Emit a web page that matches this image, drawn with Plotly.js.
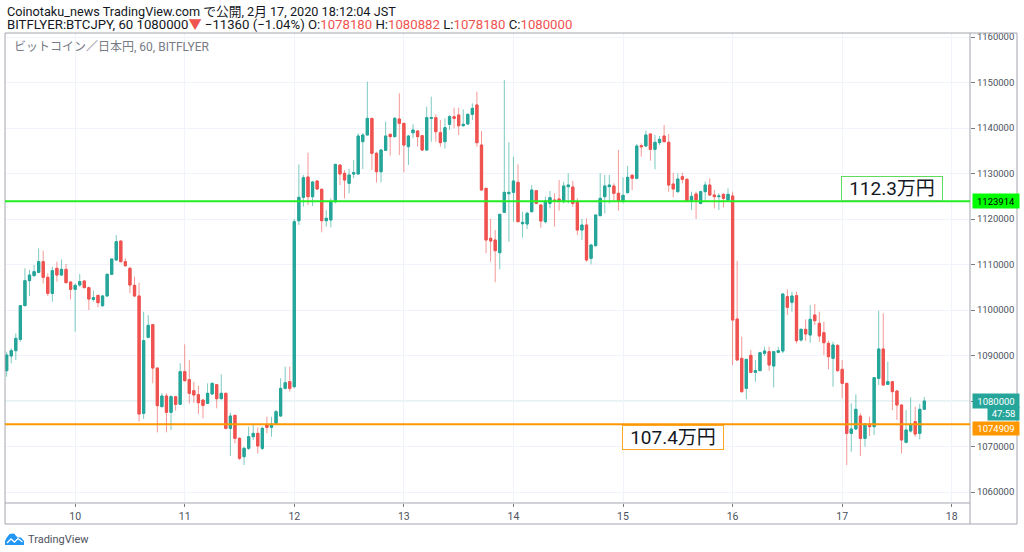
<!DOCTYPE html>
<html><head><meta charset="utf-8">
<script src="https://cdn.plot.ly/plotly-3.0.1.min.js"></script>
<style>html,body{margin:0;padding:0;background:#fff;}#chart{width:1024px;height:552px;}</style>
</head><body><div id="chart"></div>
<script>
// hourly candles, BITFLYER BTC/JPY, first candle 2020-02-09 09:00 JST
const startTime = [2020, 1, 9, 9];
const open = [
1086670,1089890,1091060,1093550,1100950,1106450,1107550,1108280,1110620,1107180,
1103660,1109160,1107690,1108940,1106150,1104540,1105490,1106370,1104910,1102340,
1103220,1100950,1103080,1107840,1110990,1115160,1110620,1109160,1105420,1103080,
1077290,1093990,1096780,1087250,1078750,1081100,1077510,1080950,1079270,1086450,
1084690,1082270,1081390,1080220,1079490,1081540,1083590,1080510,1081690,1073990,
1076850,1071800,1067770,1069600,1072160,1072890,1069600,1074730,1074210,1075090,
1076700,1082780,1084250,1083150,1119630,1124760,1129230,1124910,1128350,1126520,
1119630,1119780,1123810,1131870,1130040,1127840,1129890,1129890,1137000,1138460,
1142120,1134430,1130400,1135090,1138610,1138100,1141980,1141030,1135900,1138970,
1139340,1138320,1135160,1142120,1142270,1138970,1137000,1140810,1142490,1142860,
1140510,1140880,1143000,1145060,1136260,1126740,1115750,1115380,1112600,1121470,
1125570,1125860,1128060,1118970,1118900,1121610,1126230,1123080,1119410,1123440,
1124180,1124400,1123810,1127110,1127030,1123810,1117580,1118680,1111360,1114140,
1120730,1124910,1127110,1127250,1125640,1124030,1125790,1129600,1128940,1136120,
1136040,1138680,1135310,1136780,1138240,1136850,1127690,1126010,1129300,1128720,
1124030,1125490,1123440,1126010,1127470,1125270,1124910,1125420,1124180,1125060,
1098020,1089380,1082780,1090040,1086300,1086670,1090480,1090840,1087690,1090700,
1090990,1102930,1101690,1103150,1093410,1095750,1094510,1098900,1097070,1095020,
1092670,1089380,1092230,1086960,1083880,1072890,1073850,1076700,1071790,1074950,
1074360,1084980,1091430,1083660,1084250,1082200,1079120,1070920,1073410,1075460,
1072890,1078180];
const high = [
1090840,1091580,1094870,1101100,1109160,1108790,1109890,1113550,1113040,1108060,
1109520,1110620,1111140,1110110,1106230,1105860,1107910,1106590,1105130,1104250,
1103300,1103300,1108060,1111300,1116480,1115240,1111360,1109520,1107330,1106010,
1099630,1098900,1096850,1087300,1081690,1081690,1081320,1081100,1088280,1092450,
1089010,1084250,1083370,1080370,1083880,1084100,1083660,1085860,1081830,1077440,
1076920,1072010,1069960,1074360,1074730,1074210,1074360,1076560,1076560,1078020,
1084980,1087550,1087550,1120000,1132010,1129670,1134580,1128350,1128500,1126740,
1121980,1124540,1132100,1132010,1130770,1130990,1132970,1138830,1138830,1150180,
1142200,1134800,1135380,1141390,1138830,1142490,1147620,1141100,1138460,1140810,
1139560,1138460,1144690,1146890,1143000,1141760,1142120,1142860,1144470,1144470,
1144100,1143220,1145420,1147990,1139340,1126800,1120000,1117580,1121100,1150550,
1136850,1133700,1132010,1121610,1121610,1127470,1126370,1123220,1124910,1126150,
1125640,1128570,1128200,1130040,1128350,1124540,1120000,1120150,1114430,1121030,
1130040,1129670,1129670,1127840,1135170,1129160,1131650,1129890,1136480,1136630,
1139410,1138830,1138460,1138240,1140660,1138680,1130180,1130040,1130180,1128940,
1126010,1126010,1126230,1128210,1128940,1126370,1125640,1125640,1126740,1126010,
1110770,1094140,1089230,1091210,1089010,1090840,1091940,1091940,1090990,1091940,
1103660,1104540,1104030,1104030,1095970,1097950,1101100,1101320,1099630,1097440,
1093260,1093040,1092450,1089010,1083900,1079490,1081470,1077290,1075090,1076560,
1085200,1099850,1099270,1088640,1084300,1082420,1079200,1078020,1080810,1078750,
1079340,1080882];
const low = [
1085350,1088280,1089010,1093040,1100900,1103080,1107330,1108060,1105860,1103080,
1101830,1106230,1107470,1105860,1102340,1095240,1105130,1104760,1100000,1101830,
1100590,1100730,1103000,1107690,1110900,1110500,1109520,1103660,1102930,1075460,
1076040,1093770,1083880,1073110,1078700,1073110,1073630,1077880,1079200,1084250,
1079490,1079630,1077140,1076190,1079340,1081320,1078390,1080370,1073770,1067910,
1070700,1067030,1065930,1069230,1071430,1068500,1069230,1072890,1072160,1074950,
1076560,1082560,1082050,1082780,1118680,1122710,1123080,1122860,1126370,1117070,
1118320,1118170,1123440,1127470,1124540,1125640,1128940,1129800,1130990,1138400,
1130770,1127990,1128060,1134950,1133920,1137950,1134070,1130260,1131870,1137730,
1135900,1134950,1134950,1137000,1137000,1135900,1135530,1139560,1139930,1138460,
1140290,1140660,1141760,1135900,1126300,1112450,1110620,1106080,1108940,1121400,
1115020,1119410,1119350,1115900,1117800,1121470,1123220,1118090,1119050,1122340,
1118320,1121830,1123440,1123440,1122710,1116480,1115380,1110620,1110040,1113920,
1120700,1121250,1123440,1124030,1121830,1123440,1125640,1126370,1128720,1133700,
1135900,1132820,1130920,1136260,1136780,1126010,1124760,1125790,1127840,1123810,
1121980,1120000,1123220,1123810,1125130,1122340,1121980,1122560,1124030,1087910,
1088860,1081830,1080370,1086080,1084250,1086600,1089890,1086670,1083000,1090480,
1090480,1098900,1099630,1092670,1093040,1093260,1092820,1096700,1093040,1090110,
1086960,1083150,1086450,1080590,1065930,1068860,1073630,1067910,1069960,1072310,
1072530,1083520,1083300,1083520,1078020,1075820,1068500,1070700,1073040,1072160,
1071580,1078180];
const close = [
1090110,1091060,1093770,1100950,1106450,1107690,1108430,1110620,1107180,1103660,
1108640,1107690,1108940,1106010,1104540,1105420,1106230,1104910,1102420,1102710,
1101610,1103080,1107840,1111210,1115020,1110620,1109740,1105490,1103080,1077140,
1093260,1096630,1087250,1078970,1081100,1077510,1080950,1079270,1086450,1084470,
1081690,1081320,1079630,1079050,1081690,1083880,1080510,1081690,1073990,1076700,
1071800,1067400,1069600,1072160,1072890,1070110,1073990,1074210,1074950,1077660,
1082780,1084030,1082780,1119410,1124760,1129080,1124910,1128130,1126590,1119630,
1120150,1123810,1132010,1129890,1128570,1129670,1130180,1138240,1138460,1142120,
1134430,1130400,1135160,1138240,1138100,1142120,1141030,1136260,1138240,1139560,
1138100,1135160,1142270,1142270,1139190,1136780,1140070,1142490,1142120,1140510,
1140810,1143000,1144320,1136780,1126370,1115380,1115170,1113040,1121030,1125860,
1125860,1128350,1119410,1119270,1121250,1126370,1123440,1119560,1123960,1124690,
1123960,1123960,1127250,1127470,1123440,1117580,1118680,1110990,1114290,1120880,
1124540,1127250,1127470,1125640,1124030,1125200,1129160,1128940,1136040,1135900,
1138460,1135310,1136850,1137510,1137000,1127470,1126590,1128790,1128720,1124030,
1124980,1124180,1126010,1127470,1125270,1124910,1125060,1124540,1125420,1097800,
1089010,1082050,1089160,1086300,1086670,1090620,1090990,1087910,1090840,1091060,
1103520,1100590,1103080,1093260,1095750,1094730,1097950,1097660,1094290,1092820,
1089740,1092310,1086670,1083880,1072890,1073850,1078170,1071790,1074950,1074360,
1085130,1091430,1083520,1084250,1082050,1079120,1071430,1073630,1074870,1072750,
1078180,1080000];
const dayTicks = ['2020-02-10','2020-02-11','2020-02-12','2020-02-13','2020-02-14','2020-02-15','2020-02-16','2020-02-17','2020-02-18'];
const dayLabels = ['10','11','12','13','14','15','16','17','18'];
const priceTicks = [1060000,1070000,1080000,1090000,1100000,1110000,1120000,1130000,1140000,1150000,1160000];
const levelUpper = 1123914;
const levelLower = 1074909;
const lastPrice = 1080000;
const labelUpper = '112.3万円';
const labelLower = '107.4万円';
const countdown = '47:58';

function pad(n){return (n<10?'0':'')+n;}
const times = open.map((_, i) => {
  const d = new Date(Date.UTC(startTime[0], startTime[1], startTime[2], startTime[3] + i));
  return d.getUTCFullYear()+'-'+pad(d.getUTCMonth()+1)+'-'+pad(d.getUTCDate())+' '+pad(d.getUTCHours())+':00';
});
const bodyHigh = open.map((o,i)=>Math.max(o, close[i]));
const bodyLow = open.map((o,i)=>Math.min(o, close[i]));

const UP='#26a69a', DN='#ef5350';
const FONT="Roboto, 'Noto Sans CJK JP', sans-serif";

const wicks = {type:'candlestick', x:times, open:open, high:high, low:low, close:close,
  increasing:{line:{color:'rgba(38,166,154,0.6)', width:1}, fillcolor:UP},
  decreasing:{line:{color:'rgba(239,83,80,0.6)', width:1}, fillcolor:DN},
  hoverinfo:'skip', showlegend:false};
const bodies = {type:'candlestick', x:times, open:open, high:bodyHigh, low:bodyLow, close:close,
  increasing:{line:{color:UP, width:1}, fillcolor:UP},
  decreasing:{line:{color:DN, width:1}, fillcolor:DN},
  hoverinfo:'skip', showlegend:false};

// px -> paper helpers for decoration outside the plot area
const L=5, R=970, T=33, B=503;
const px=(x)=>(x-L)/(R-L), py=(y)=>(B-y)/(B-T);
const FRAME='#a3a6af';

const shapes = [
  {type:'rect', xref:'paper', yref:'paper', x0:px(5), x1:px(1017), y0:py(524), y1:py(33), line:{color:FRAME,width:1}},
  {type:'line', xref:'paper', yref:'paper', x0:px(970), x1:px(970), y0:py(524), y1:py(33), line:{color:FRAME,width:1}},
  {type:'line', xref:'paper', yref:'paper', x0:px(5), x1:px(970), y0:py(503), y1:py(503), line:{color:FRAME,width:1}},
  {type:'line', xref:'paper', yref:'y', x0:0, x1:1, y0:lastPrice, y1:lastPrice, line:{color:'rgba(38,166,154,0.25)',width:1}, layer:'below'},
  {type:'line', xref:'paper', yref:'y', x0:0, x1:1, y0:levelUpper, y1:levelUpper, line:{color:'#22ee22',width:2}},
  {type:'line', xref:'paper', yref:'y', x0:0, x1:1, y0:levelLower, y1:levelLower, line:{color:'#ff9800',width:2}},
  // TradingView logo icon
  {type:'path', xref:'paper', yref:'paper', fillcolor:'#2196f3', line:{width:0},
   path:'M '+px(5)+' '+py(545)+' L '+px(24)+' '+py(545)+' L '+px(24)+' '+py(541)+' L '+px(21)+' '+py(537.5)+' L '+px(17.5)+' '+py(537.5)+' L '+px(14)+' '+py(533.5)+' L '+px(9.5)+' '+py(534)+' L '+px(6.5)+' '+py(538)+' L '+px(5)+' '+py(541)+' Z'},
  {type:'path', xref:'paper', yref:'paper', line:{color:'#ffffff',width:1.3},
   path:'M '+px(7)+' '+py(543)+' L '+px(11)+' '+py(539)+' L '+px(14.5)+' '+py(542)+' L '+px(18)+' '+py(538.5)+' L '+px(22.5)+' '+py(542)}
];

const red = s => '<span style="color:#ef5350">'+s+'</span>';
const annotations = [
  {xref:'paper', yref:'paper', x:0, y:py(11), xanchor:'left', yanchor:'middle', showarrow:false,
   text:'Coinotaku_news TradingView.com で公開, 2月 17, 2020 18:12:04 JST', font:{family:FONT,size:12.7,color:'#131722'}},
  {xref:'paper', yref:'paper', x:0, y:py(25), xanchor:'left', yanchor:'middle', showarrow:false,
   text:'BITFLYER:BTCJPY, 60 1080000'+red('▼')+' −11360 (−1.04%) O:'+red('1078180')+' H:'+red('1080882')+' L:'+red('1078180')+' C:'+red('1080000'),
   font:{family:FONT,size:13.2,color:'#131722'}},
  {xref:'paper', yref:'paper', x:px(12), y:py(47), xanchor:'left', yanchor:'middle', showarrow:false,
   text:'ビットコイン／日本円, 60, BITFLYER', font:{family:FONT,size:12,color:'#787b86'}},
  {xref:'x', yref:'paper', x:'2020-02-17 10:54', y:py(188), xanchor:'center', yanchor:'middle', showarrow:false,
   text:labelUpper, font:{family:FONT,size:19,color:'#131722'}, bgcolor:'#ffffff', bordercolor:'#5ddc5d', borderwidth:1, borderpad:0, width:100, height:23},
  {xref:'x', yref:'paper', x:'2020-02-15 11:00', y:py(437.5), xanchor:'center', yanchor:'middle', showarrow:false,
   text:labelLower, font:{family:FONT,size:19,color:'#131722'}, bgcolor:'#ffffff', bordercolor:'#ffa726', borderwidth:1, borderpad:0, width:100, height:23},
  {xref:'paper', yref:'y', x:px(972), y:levelUpper, xanchor:'left', yanchor:'middle', showarrow:false,
   text:String(levelUpper), font:{family:FONT,size:9.5,color:'#000000'}, bgcolor:'#00ff00', borderpad:1, width:44, height:12},
  {xref:'paper', yref:'y', x:px(972), y:lastPrice, xanchor:'left', yanchor:'middle', showarrow:false,
   text:String(lastPrice), font:{family:FONT,size:9.5,color:'#ffffff'}, bgcolor:UP, borderpad:1, width:44, height:12},
  {xref:'paper', yref:'paper', x:px(987), y:py(413.5), xanchor:'left', yanchor:'middle', showarrow:false,
   text:countdown, font:{family:FONT,size:9.5,color:'#ffffff'}, bgcolor:UP, borderpad:1, width:29, height:11},
  {xref:'paper', yref:'paper', x:px(972), y:py(428), xanchor:'left', yanchor:'middle', showarrow:false,
   text:String(levelLower), font:{family:FONT,size:9.5,color:'#ffffff'}, bgcolor:'#ff9800', borderpad:1, width:44, height:11},
  {xref:'paper', yref:'paper', x:px(26), y:py(539), xanchor:'left', yanchor:'middle', showarrow:false,
   text:'TradingView', font:{family:FONT,size:11,color:'#50535e'}}
];

const layout = {
  width:1024, height:552,
  margin:{l:L, r:1024-R, t:T, b:552-B, pad:0},
  paper_bgcolor:'#ffffff', plot_bgcolor:'#ffffff',
  showlegend:false,
  font:{family:FONT, size:10, color:'#4c525e'},
  xaxis:{type:'date', range:['2020-02-09 08:38','2020-02-18 04:00'], rangeslider:{visible:false},
    tickmode:'array', tickvals:dayTicks, ticktext:dayLabels, ticks:'outside', ticklen:3, tickcolor:'#787b86',
    showgrid:true, gridcolor:'#f0f3fa', gridwidth:1, zeroline:false, showline:false,
    tickfont:{family:FONT,size:10.5,color:'#4c525e'}, fixedrange:true},
  yaxis:{side:'right', range:[1057585,1160880], tickmode:'array', tickvals:priceTicks, ticktext:priceTicks.map(String),
    ticks:'outside', ticklen:4, tickcolor:'#787b86', showgrid:true, gridcolor:'#f0f3fa', gridwidth:1,
    zeroline:false, showline:false, tickfont:{family:FONT,size:9.5,color:'#4c525e'}, fixedrange:true},
  shapes:shapes, annotations:annotations
};

Plotly.newPlot('chart', [wicks, bodies], layout, {displayModeBar:false, staticPlot:true});
</script>
</body></html>
